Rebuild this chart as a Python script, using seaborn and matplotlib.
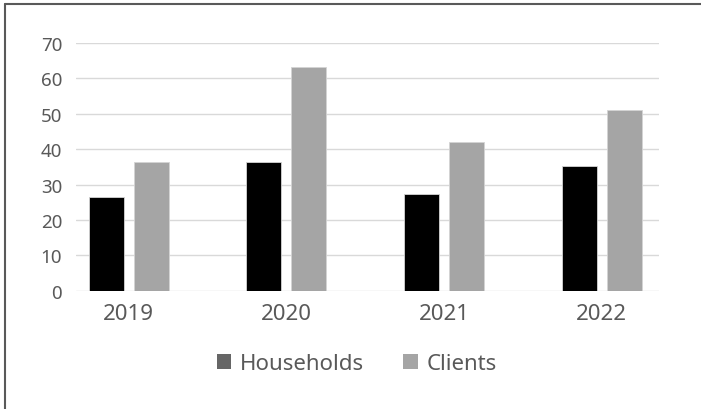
import matplotlib
matplotlib.use("Agg")
import matplotlib.pyplot as plt
from matplotlib.patches import Patch
from matplotlib.lines import Line2D
import pandas as pd
import seaborn as sns

# Yearly counts
years = ["2019", "2020", "2021", "2022"]
households = [26.4, 36.4, 27.3, 35.3]
clients = [36.4, 63.1, 42.1, 51.2]
series_names = ["Households", "Clients"]
y_ticks = [0, 10, 20, 30, 40, 50, 60, 70]

df = pd.DataFrame({
    "Year": years * 2,
    "Count": households + clients,
    "Series": [series_names[0]] * len(years) + [series_names[1]] * len(years),
})

sns.set_theme(style="white")
plt.rcParams["font.family"] = ["Noto Sans", "DejaVu Sans"]

text_color = "#595959"
grid_color = "#d9d9d9"
bar_colors = {"Households": "#000000", "Clients": "#a5a5a5"}
legend_colors = {"Households": "#666666", "Clients": "#a5a5a5"}

W, H = 701, 410
fig = plt.figure(figsize=(W / 100, H / 100), dpi=100)
ax = fig.add_axes([76 / W, (H - 291.7) / H, (659 - 76) / W, (291.7 - 44) / H])

sns.barplot(
    data=df, x="Year", y="Count", hue="Series", order=years,
    hue_order=series_names, palette=bar_colors, width=0.571, gap=0.22,
    edgecolor="#d4d4d4", linewidth=0.6, legend=False, ax=ax, zorder=3,
)

ax.set_xlim(-0.335, 3.364)
ax.set_ylim(0, 70)
ax.set_yticks(y_ticks)
ax.set_yticklabels([str(v) for v in y_ticks])
ax.yaxis.grid(True, color=grid_color, linewidth=1.0, zorder=0)
ax.xaxis.grid(False)
ax.set_axisbelow(True)
for s in ax.spines.values():
    s.set_visible(False)
ax.set_xlabel("")
ax.set_ylabel("")
ax.tick_params(axis="y", length=0, pad=10, labelsize=13.5, labelcolor=text_color)
ax.tick_params(axis="x", length=0, pad=9, labelsize=16, labelcolor=text_color)

handles = [Patch(facecolor=legend_colors[n], edgecolor="none") for n in series_names]
fig.legend(
    handles, series_names, loc="center", bbox_to_anchor=(357 / W, (H - 365) / H),
    ncol=2, frameon=False, fontsize=16, labelcolor=text_color,
    handlelength=0.65, handleheight=0.65, handletextpad=0.4, columnspacing=1.75,
)

# Outer frame (left and top edges)
fig.add_artist(Line2D([5 / W, 5 / W], [0, (H - 5) / H], color="#595959", linewidth=1.5))
fig.add_artist(Line2D([5 / W, 1], [(H - 5) / H, (H - 5) / H], color="#595959", linewidth=1.5))

fig.savefig("out.png", dpi=100)
